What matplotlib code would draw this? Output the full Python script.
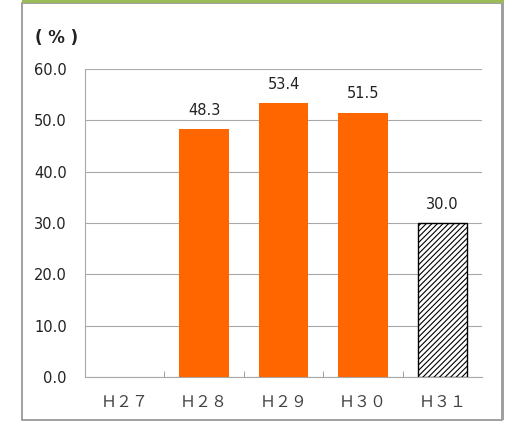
import matplotlib.pyplot as plt
import matplotlib.patches as patches

plt.rcParams['font.family'] = ['DejaVu Sans']
plt.rcParams['hatch.linewidth'] = 0.8
plt.rcParams['hatch.color'] = '#666666'

# --- data ---
categories = ['Ｈ２７', 'Ｈ２８', 'Ｈ２９', 'Ｈ３０', 'Ｈ３１']
values = [None, 48.3, 53.4, 51.5, 30.0]
hatched = [False, False, False, False, True]
y_ticks = [0, 10, 20, 30, 40, 50, 60]

fig = plt.figure(figsize=(5.13, 4.26), dpi=100)

# outer frame + green band on top (behind the axes)
fig.patches.append(patches.Rectangle((22 / 513, 6 / 426), 480 / 513, 417 / 426,
                                     transform=fig.transFigure, facecolor='white',
                                     edgecolor='#909090', linewidth=1.2, zorder=-5))
fig.patches.append(patches.Rectangle((501 / 513, 6 / 426), 3 / 513, 417 / 426,
                                     transform=fig.transFigure, facecolor='#A0A0A0',
                                     edgecolor='none', zorder=-4))
fig.patches.append(patches.Rectangle((22 / 513, 423 / 426), 482 / 513, 3 / 426,
                                     transform=fig.transFigure, facecolor='#9BBB59',
                                     edgecolor='none', zorder=-4))

ax = fig.add_axes([85 / 513, 49 / 426, 397 / 513, 308 / 426])
ax.set_facecolor('none')

x = range(len(categories))
for i, (v, h) in enumerate(zip(values, hatched)):
    if v is None:
        continue
    if h:
        ax.bar(i, v, width=0.62, facecolor='white', edgecolor='black',
               hatch='//////', linewidth=1.0, zorder=3)
    else:
        ax.bar(i, v, width=0.62, color='#FF6600', zorder=3)
    ax.text(i, v + 2.2, f'{v:.1f}', ha='center', va='bottom', fontsize=10.5,
            color='#222222')

ax.set_xlim(-0.5, len(categories) - 0.5)
ax.set_ylim(0, 60)
ax.set_yticks(y_ticks)
ax.set_yticklabels([f'{t:.1f}' for t in y_ticks], fontsize=10.5, color='#222222')
ax.yaxis.grid(True, color='#A8A8A8', linewidth=0.8, zorder=0)
ax.set_axisbelow(True)

ax.set_xticks([i + 0.5 for i in x[:-1]] + [-0.5], minor=True)
ax.set_xticks(list(x))
ax.set_xticklabels(categories, fontsize=11.5, color='#444444',
                   family=['Noto Sans CJK JP', 'DejaVu Sans'])
ax.tick_params(axis='x', which='major', length=0, pad=12)
ax.tick_params(axis='x', which='minor', length=4, color='#909090', direction='in')
ax.tick_params(axis='y', length=0, pad=13)

for s in ['top', 'right']:
    ax.spines[s].set_visible(False)
ax.spines['left'].set_color('#A8A8A8')
ax.spines['bottom'].set_color('#A8A8A8')

fig.text(57 / 513, 1 - 38 / 426, '( % )', fontsize=12, fontweight='bold',
         ha='center', va='center', color='#222222')

fig.savefig('out.png', dpi=100)
